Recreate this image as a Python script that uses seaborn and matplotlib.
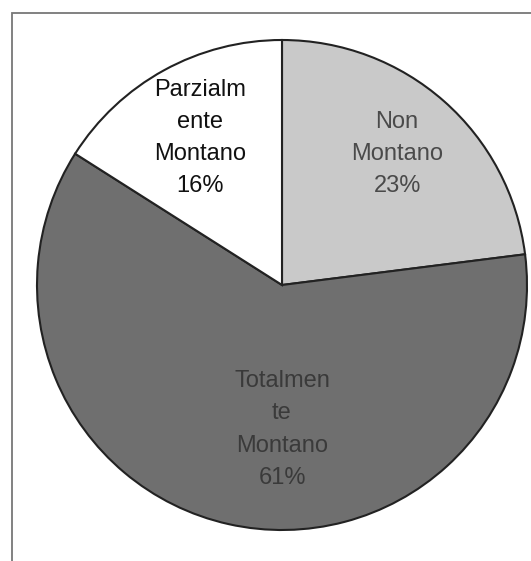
import matplotlib
matplotlib.use("Agg")
import matplotlib.pyplot as plt
import seaborn as sns
from matplotlib.patches import Rectangle

categories = ["Non\nMontano", "Totalmen\nte\nMontano", "Parzialm\nente\nMontano"]
values = [23, 61, 16]
colors = ["#c9c9c9", "#6f6f6f", "#ffffff"]
text_colors = ["#4a4a4a", "#3a3a3a", "#111111"]

sns.set_theme(style="white")
plt.rcParams['font.family'] = ['Liberation Sans', 'DejaVu Sans']

fig = plt.figure(figsize=(5.31, 5.61), dpi=100)
fig.patch.set_facecolor("white")
ax = fig.add_axes([37/531, 1 - 530/561, 490/531, 490/561])

labels = [f"{c}\n{v}%" for c, v in zip(categories, values)]
wedges, texts = ax.pie(values, labels=labels, colors=colors, startangle=90,
                       counterclock=False, labeldistance=0.7, radius=1,
                       wedgeprops=dict(edgecolor="#222222", linewidth=1.5),
                       textprops=dict(fontsize=17, linespacing=1.6))
for t, c in zip(texts, text_colors):
    t.set_ha("center")
    t.set_va("center")
    t.set_color(c)
texts[1].set_position((0.0, -0.59))
texts[0].set_position((0.47, 0.535))
texts[2].set_position((-0.335, 0.60))

ax.set_xlim(-1, 1)
ax.set_ylim(-1, 1)
ax.set_aspect("equal")
ax.axis("off")

fig.patches.append(Rectangle((12/531, -0.05), 1.2, 1 - 13/561 + 0.05,
                             transform=fig.transFigure, fill=False,
                             edgecolor="#777777", linewidth=1.3, zorder=0))

fig.savefig("out.png", dpi=100)
